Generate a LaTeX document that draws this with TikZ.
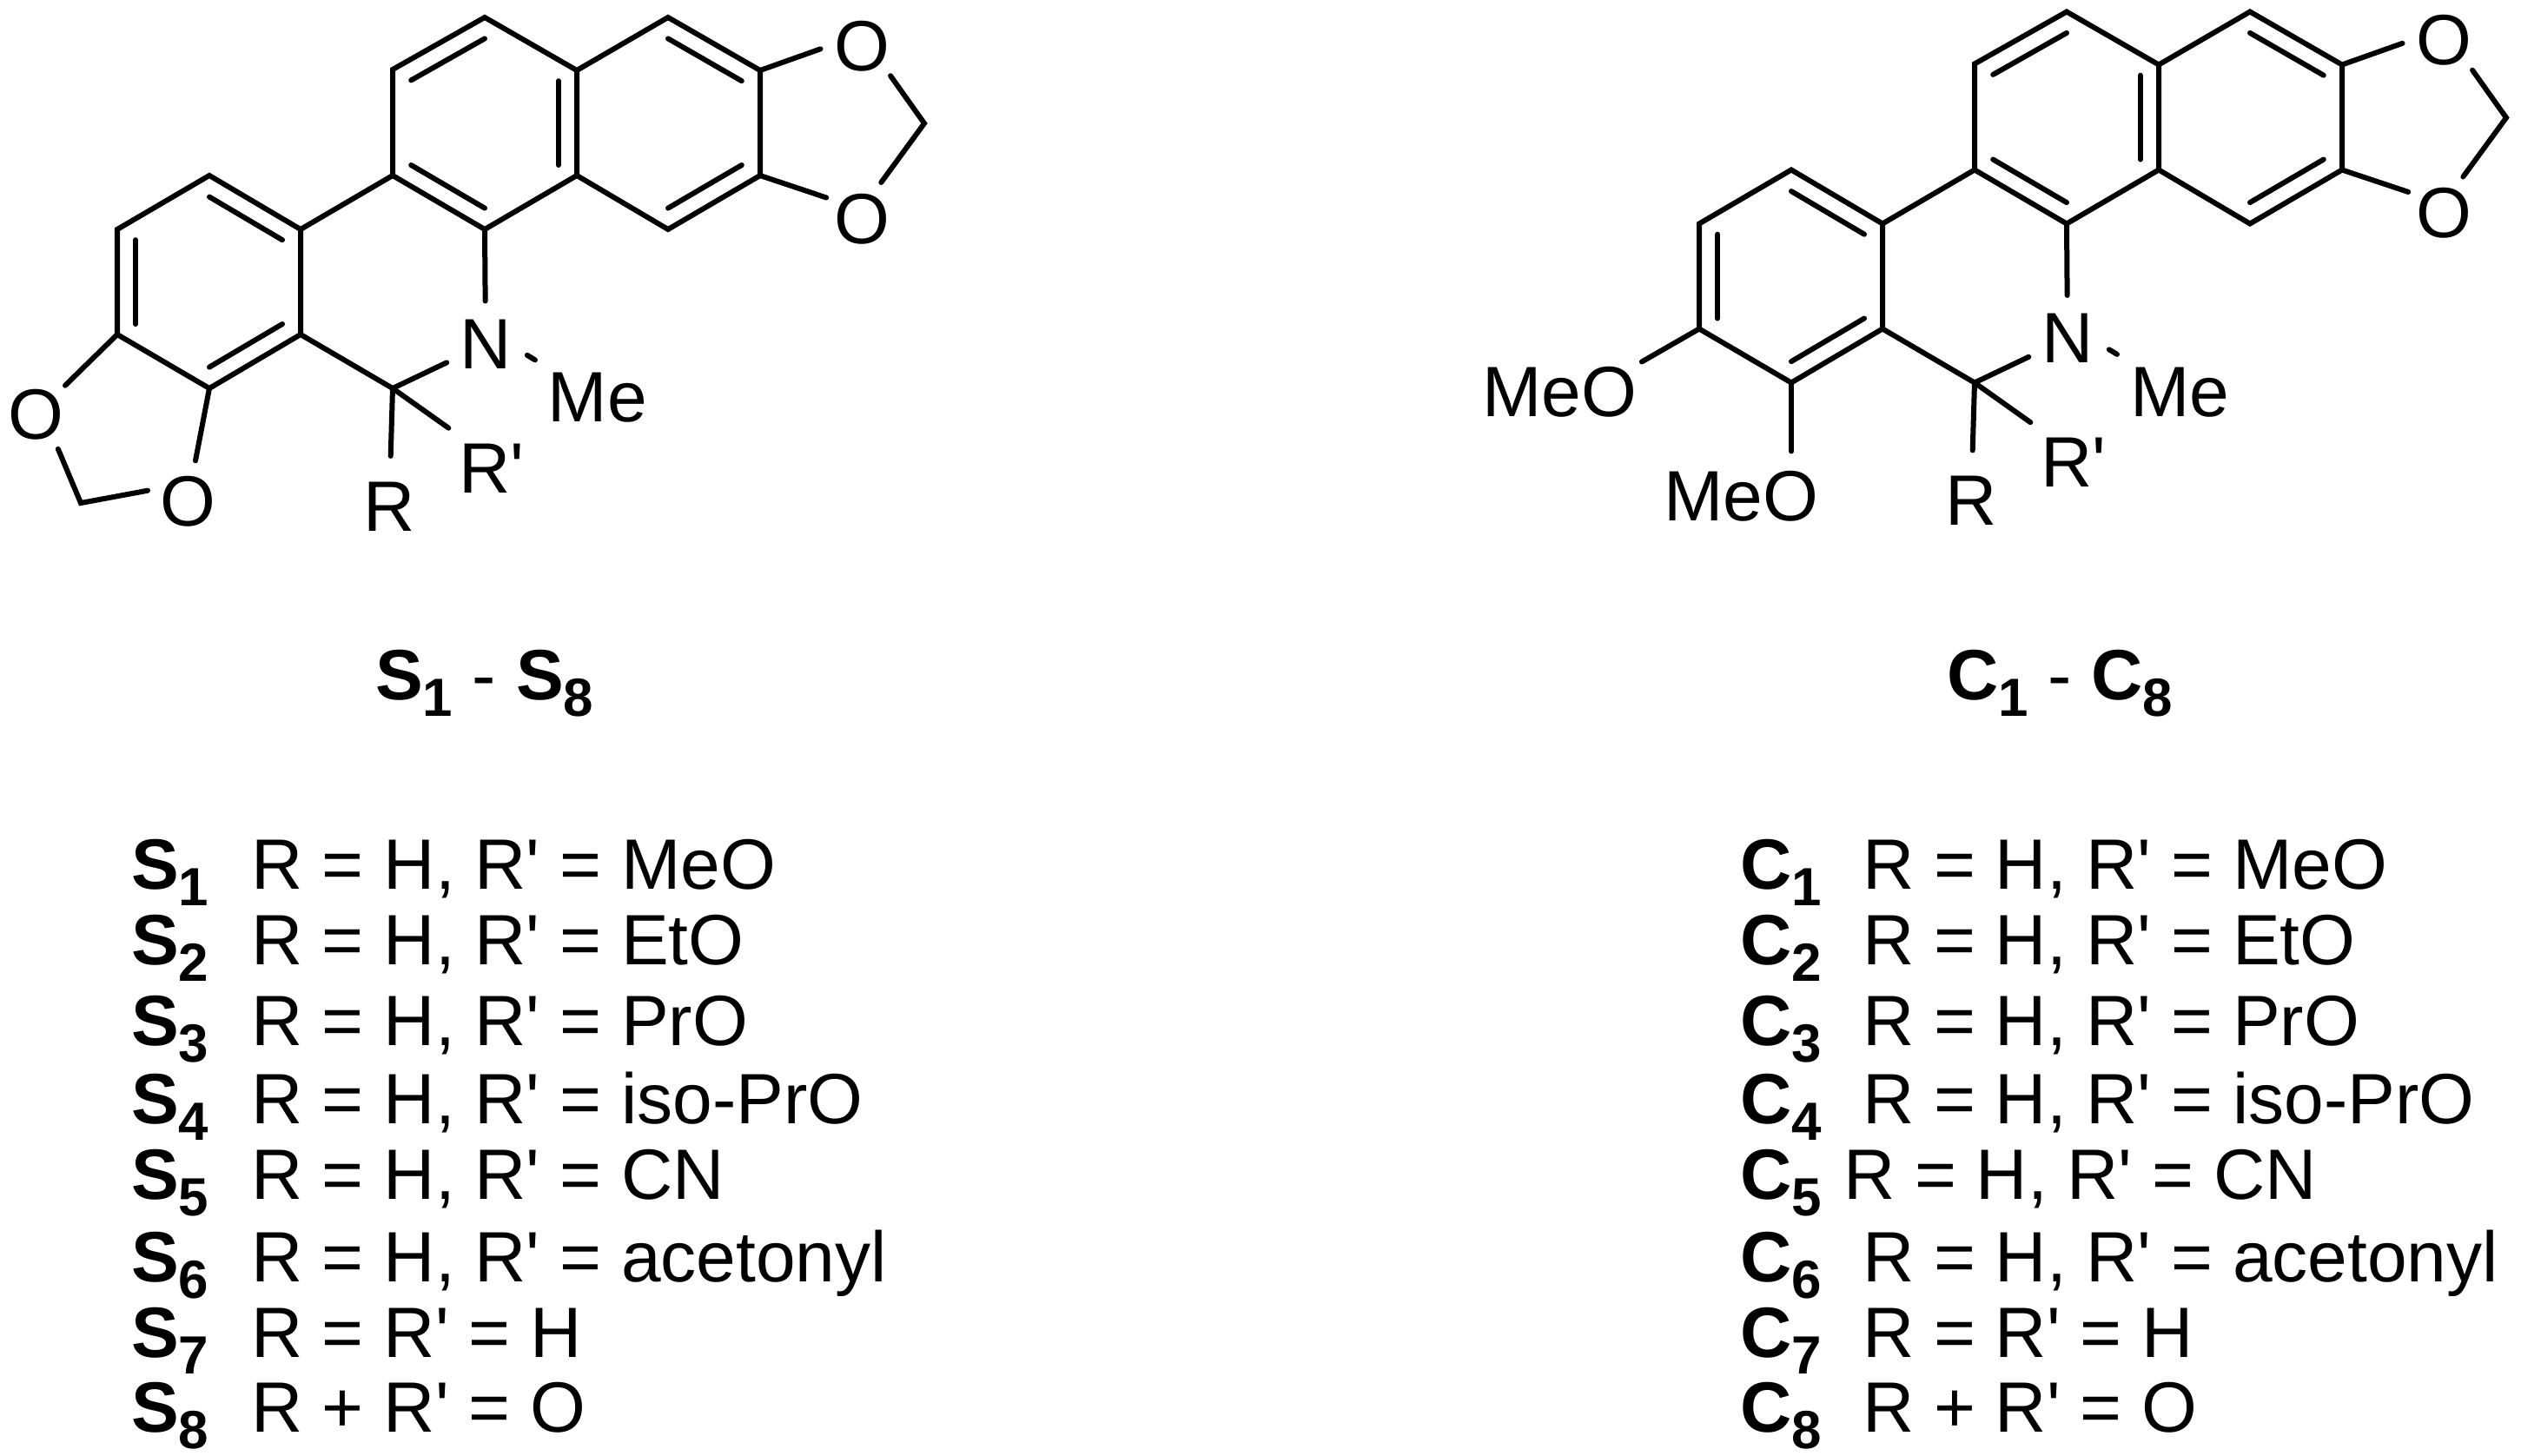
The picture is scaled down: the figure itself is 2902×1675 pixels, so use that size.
\documentclass[tikz,border=0pt]{standalone}
\usepackage{fontspec}
\usetikzlibrary{calc}
\newfontfamily\arialfont{Liberation Sans}
\newcommand{\sublab}[2]{\textbf{#1\raisebox{-.19cm}{\fontsize{17.6pt}{20pt}\selectfont #2}}}
\newcommand{\innerbond}[3]{\draw ($(#1)!.2!(#3)$) -- ($(#2)!.2!(#3)$);}
\newcommand{\coreskeleton}{
  \coordinate (a) at (558,20);
  \coordinate (b) at (452,80);
  \coordinate (c) at (452,202);
  \coordinate (d) at (558,264);
  \coordinate (e) at (664,202);
  \coordinate (f) at (664,81);
  \coordinate (g) at (769,20);
  \coordinate (h) at (875,81);
  \coordinate (i) at (875,202);
  \coordinate (j) at (769,264);
  \coordinate (m) at (1064,142);
  \coordinate (n) at (346,264);
  \coordinate (o) at (346,385);
  \coordinate (p) at (241,447);
  \coordinate (q) at (135,385);
  \coordinate (r) at (135,264);
  \coordinate (s) at (241,202);
  \coordinate (t) at (452,447);
  \coordinate (cA) at (558,142);
  \coordinate (cC) at (769,142);
  \coordinate (cD) at (241,325);
  \node[atom] (Ou) at (992,53) {O};
  \node[atom] (Ol) at (992,252) {O};
  \node[atom,inner sep=.04cm] (N) at (559,396) {N};
  \node[atom,inner sep=.1cm] (R) at (448,583) {R};
  \node[atom,inner sep=.13cm] (Rp) at (566,539) {R'};
  \node[group,inner sep=.12cm] (Me) at (688,458) {Me};
  \draw (a) -- (b) -- (c) -- (d) -- (e) -- (f) -- cycle;
  \draw (f) -- (g) -- (h) -- (i) -- (j) -- (e);
  \draw (c) -- (n) -- (o) -- (p) -- (q) -- (r) -- (s) -- (n);
  \draw (d) -- (N) -- (t) -- (o);
  \draw (t) -- (R);
  \draw (t) -- (Rp.137);
  \draw (N.-15) -- (Me.north west);
  \draw (h) -- (Ou.184);
  \draw (i) -- (Ol.149);
  \draw (Ou.-46) -- (m) -- (Ol.62);
  \innerbond{a}{b}{cA}
  \innerbond{c}{d}{cA}
  \innerbond{e}{f}{cA}
  \innerbond{g}{h}{cC}
  \innerbond{i}{j}{cC}
  \innerbond{s}{n}{cD}
  \innerbond{o}{p}{cD}
  \innerbond{q}{r}{cD}
}
\tikzset{
  bond/.style={line width=.06cm,line join=miter,line cap=round},
  atom/.style={circle,inner sep=.01cm},
  group/.style={rectangle,inner sep=.03cm},
  listtext/.style={anchor=base west,inner sep=0pt}
}
\begin{document}
\begin{tikzpicture}[x=.01cm,y=-.01cm,bond,font=\arialfont\fontsize{23.34pt}{28pt}\selectfont]
  \useasboundingbox (0,0) rectangle (2902,1675);

  \begin{scope}[name prefix=s-]
    \coreskeleton
    \coordinate (v) at (93,579);
    \node[atom] (Oa) at (41,477) {O};
    \node[atom] (Ob) at (216,577) {O};
    \draw (q) -- (Oa);
    \draw (Oa.-57) -- (v) -- (Ob.165);
    \draw (Ob) -- (p);
  \end{scope}

  \begin{scope}[shift={(1821,-6.5)},name prefix=c-]
    \coreskeleton
    \node[group] (Ma) at (-26,458) {MeO};
    \node[group] (Mb) at (183,578) {MeO};
    \draw (q) -- (Ma.north east);
    \draw[shorten >=.17cm] (p) -- (p |- Mb.north);
  \end{scope}

  \node[listtext] (scap) at (429,805) {\sublab{S}{1} - \sublab{S}{8}};
  \node[listtext] (ccap) at (2238,805) {\sublab{C}{1} - \sublab{C}{8}};

  \foreach \i/\y/\tx/\txt in {1/1023/2141/{R = H, R' = MeO},
      2/1110/2141/{R = H, R' = EtO},
      3/1203/2141/{R = H, R' = PrO},
      4/1293/2141/{R = H, R' = iso-PrO},
      5/1380/2119/{R = H, R' = CN},
      6/1475/2141/{R = H, R' = acetonyl},
      7/1562/2141/{R = R' = H},
      8/1648/2141/{R + R' = O}}{
    \node[listtext] (slab\i) at (148,\y) {\sublab{S}{\i}};
    \node[listtext] (stxt\i) at (286,\y) {\txt};
    \node[listtext] (clab\i) at (2000,\y) {\sublab{C}{\i}};
    \node[listtext] (ctxt\i) at (\tx,\y) {\txt};
  }
\end{tikzpicture}
\end{document}
